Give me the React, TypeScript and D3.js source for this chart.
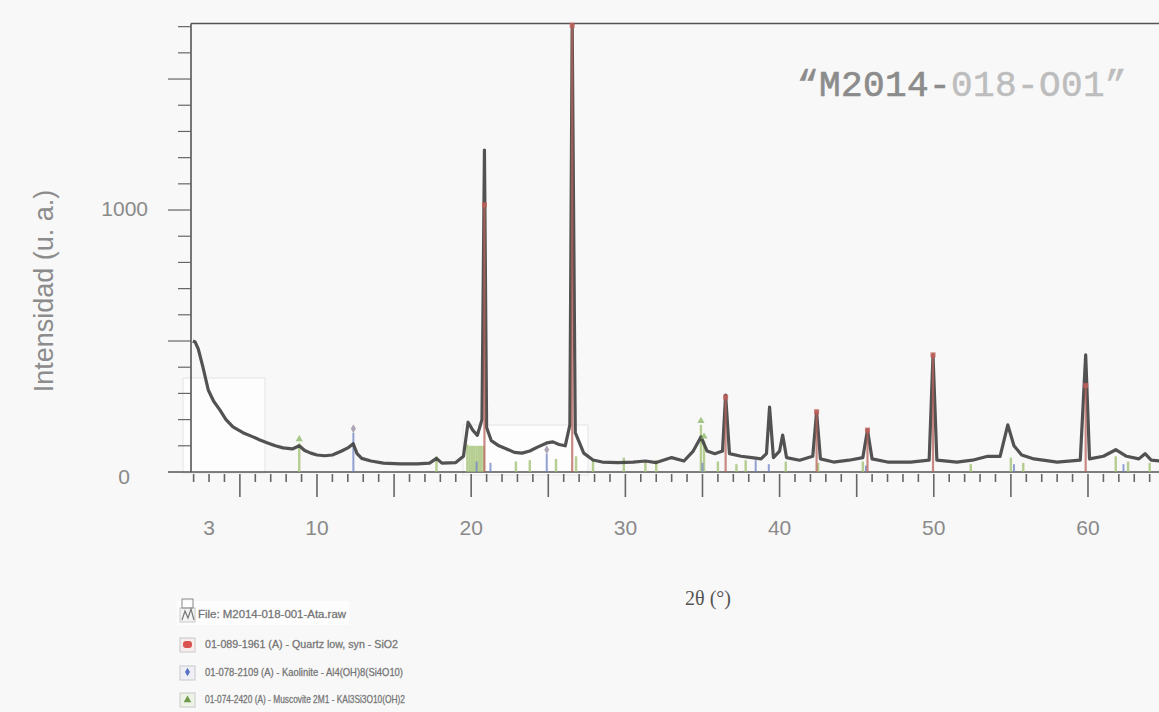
import React, { useEffect, useRef } from 'react';
import * as d3 from 'd3';

// diffractogram: 2θ (deg) and intensity (u. a.)
const twoTheta = [
  1.95, 2.1, 2.3, 2.6, 2.95, 3.3, 3.7, 4.1, 4.55, 5.2, 5.85, 6.3, 6.8, 7.3, 7.8, 8.4, 8.85, 9.2, 9.6, 10.0,
  10.5, 11.0, 11.6, 12.0, 12.35, 12.6, 12.9, 13.5, 14.3, 15.4, 16.5, 17.3, 17.75, 18.1, 19.0, 19.5, 19.8, 20.1,
  20.4, 20.7, 20.86, 21.0, 21.3, 21.8, 22.3, 22.8, 23.3, 23.8, 24.3, 24.9, 25.3, 25.7, 26.1, 26.4, 26.55, 26.75,
  27.3, 27.9, 28.5, 29.5, 30.5, 31.3, 32.0, 33.0, 33.8, 34.4, 34.9, 35.3, 35.8, 36.3, 36.5, 36.75, 37.5, 38.2,
  38.8, 39.15, 39.35, 39.6, 40.0, 40.2, 40.45, 41.3, 42.15, 42.4, 42.65, 43.5, 44.5, 45.4, 45.7, 46.0, 47.0,
  48.5, 49.7, 49.95, 50.2, 51.5, 52.5, 53.5, 54.3, 54.8, 55.2, 55.7, 56.5, 58.0, 59.5, 59.85, 60.1, 61.0, 61.8,
  62.5, 63.3, 63.7, 64.1, 65.0,
];
const intensity = [
  500, 496, 470, 401, 313, 270, 237, 200, 172, 150, 134, 122, 111, 100, 92, 88, 100, 82, 72, 65,
  62, 65, 80, 92, 108, 70, 52, 42, 34, 31, 31, 34, 52, 34, 36, 60, 190, 160,
  140, 200, 1229, 170, 120, 100, 88, 75, 72, 80, 95, 111, 115, 105, 100, 180, 1705, 150,
  72, 46, 38, 36, 38, 42, 36, 55, 42, 80, 134, 80, 70, 80, 294, 70, 60, 55,
  50, 70, 248, 55, 80, 141, 55, 45, 60, 229, 50, 38, 45, 55, 160, 50, 38,
  38, 45, 447, 45, 38, 45, 60, 60, 180, 100, 65, 50, 38, 45, 447, 50, 60, 85,
  60, 50, 70, 45, 40,
];

// reference patterns (stick positions / heights)
const quartzPos = [20.86, 26.55, 36.5, 42.4, 45.7, 49.95, 59.85];
const quartzInt = [1020, 1705, 286, 230, 160, 447, 330];
const kaolinitePos = [12.36, 20.35, 21.25, 24.9, 35.0, 38.45, 39.3, 45.6, 55.2, 62.3];
const kaoliniteInt = [150, 40, 35, 70, 35, 45, 30, 25, 30, 30];
const muscovitePos = [8.85, 17.75, 19.75, 19.9, 20.05, 20.2, 20.35, 20.5, 20.65, 20.8, 22.9, 23.8, 25.5, 26.8,
  27.9, 29.9, 31.3, 32.0, 34.9, 35.1, 36.0, 37.2, 37.8, 40.4, 42.5, 45.4, 52.4, 55.0, 55.8, 61.8, 62.6, 64.0];
const muscoviteInt = [110, 60, 105, 100, 100, 100, 100, 100, 100, 100, 40, 45, 50, 60,
  45, 55, 40, 45, 180, 120, 40, 30, 45, 40, 35, 40, 30, 55, 35, 60, 40, 35];

const xTickLabels = [3, 10, 20, 30, 40, 50, 60];
const yTickLabels = [0, 1000];

const legendItems = [
  'File: M2014-018-001-Ata.raw',
  '01-089-1961 (A) - Quartz low, syn - SiO2',
  '01-078-2109 (A) - Kaolinite - Al4(OH)8(Si4O10)',
  '01-074-2420 (A) - Muscovite 2M1 - KAl3Si3O10(OH)2',
];

const App = () => {
  const svgRef = useRef<SVGSVGElement | null>(null);

  useEffect(() => {
    document.body.style.margin = '0';
    const width = 1159;
    const height = 712;

    const svg = d3.select(svgRef.current);
    svg.selectAll('*').remove();
    svg.attr('width', width).attr('height', height);

    svg.append('rect').attr('width', width).attr('height', height).attr('fill', '#f8f8f8');

    const x = d3.scaleLinear().domain([1.83, 65.5]).range([191, 1172.8]);
    const y = d3.scaleLinear().domain([0, 1712]).range([472, 23.5]);

    // faint pasted-image boxes
    svg.append('rect').attr('x', 183).attr('y', 378).attr('width', 82).attr('height', 95)
      .attr('fill', '#fdfdfd').attr('stroke', '#e4e4e4');
    svg.append('rect').attr('x', 463).attr('y', 425).attr('width', 125).attr('height', 50)
      .attr('fill', '#fdfdfd').attr('stroke', '#e4e4e4');

    // frame
    svg.append('line').attr('x1', 191).attr('x2', width).attr('y1', 23.5).attr('y2', 23.5)
      .attr('stroke', '#555').attr('stroke-width', 1.6);
    svg.append('line').attr('x1', 191).attr('x2', 191).attr('y1', 23.5).attr('y2', 472)
      .attr('stroke', '#555').attr('stroke-width', 1.6);
    svg.append('line').attr('x1', 168).attr('x2', width).attr('y1', 472).attr('y2', 472)
      .attr('stroke', '#555').attr('stroke-width', 1.6);

    // y ticks every 100, long every 500
    d3.range(100, 1701, 100).forEach(v => {
      const long = v % 500 === 0;
      svg.append('line').attr('x1', long ? 168 : 178).attr('x2', 191)
        .attr('y1', y(v)).attr('y2', y(v)).attr('stroke', '#666').attr('stroke-width', 1.2);
    });
    yTickLabels.forEach(v => {
      svg.append('text').attr('x', v === 0 ? 124 : 148).attr('y', y(v) + (v === 0 ? 6 : 0))
        .attr('text-anchor', v === 0 ? 'middle' : 'end').attr('dominant-baseline', 'middle')
        .style('font-family', 'Liberation Sans, Arial, sans-serif').style('font-size', '21px')
        .style('fill', '#8a8a8a').text(String(v));
    });

    // x ticks every degree, long every 5
    d3.range(2, 66).forEach(v => {
      const long = v % 5 === 0;
      svg.append('line').attr('x1', x(v)).attr('x2', x(v))
        .attr('y1', 474).attr('y2', long ? 497 : 482)
        .attr('stroke', '#666').attr('stroke-width', 1.6);
    });
    xTickLabels.forEach(v => {
      svg.append('text').attr('x', x(v)).attr('y', 529)
        .attr('text-anchor', 'middle').attr('dominant-baseline', 'middle')
        .style('font-family', 'Liberation Sans, Arial, sans-serif').style('font-size', '21px')
        .style('fill', '#8a8a8a').text(String(v));
    });

    // axis titles
    svg.append('text').attr('transform', 'translate(46, 291) rotate(-90)')
      .attr('text-anchor', 'middle').attr('dominant-baseline', 'middle')
      .style('font-family', 'Liberation Sans, Arial, sans-serif').style('font-size', '27px')
      .style('fill', '#8c8c8c').text('Intensidad (u. a.)');
    svg.append('text').attr('x', 708).attr('y', 605).attr('text-anchor', 'middle')
      .style('font-family', 'Liberation Serif, serif').style('font-size', '20px')
      .style('fill', '#555').text('2θ (°)');

    // sample label
    const lbl = svg.append('text').attr('x', 797).attr('y', 96)
      .style('font-family', 'Liberation Mono, Courier New, monospace').style('font-size', '36px')
      .style('letter-spacing', '0.4px');
    lbl.append('tspan').style('fill', '#8c8c8c').style('stroke', '#8c8c8c').style('stroke-width', '0.7px')
      .text('“M2014-');
    lbl.append('tspan').style('fill', '#bdbdbd').style('stroke', '#bdbdbd').style('stroke-width', '0.5px')
      .text('018-O01”');

    // reference sticks
    const sticks = (pos: number[], val: number[], color: string, w: number) => {
      pos.forEach((p, i) => {
        svg.append('line').attr('x1', x(p)).attr('x2', x(p)).attr('y1', y(0)).attr('y2', y(val[i]))
          .attr('stroke', color).attr('stroke-width', w).attr('opacity', 0.75);
      });
    };
    sticks(muscovitePos, muscoviteInt, '#9fbf6e', 2.4);
    sticks(kaolinitePos, kaoliniteInt, '#6f83c4', 2);

    // diffractogram
    const pts: [number, number][] = twoTheta.map((t, i) => [t, intensity[i]]);
    const line = d3.line<[number, number]>().x(d => x(d[0])).y(d => y(d[1]));
    svg.append('path').attr('d', line(pts)).attr('fill', 'none')
      .attr('stroke', '#3f3f3f').attr('stroke-width', 3.2).attr('stroke-linejoin', 'round')
      .attr('opacity', 0.9);

    sticks(quartzPos, quartzInt, '#b8645c', 2.2);

    // stick markers
    quartzPos.forEach((p, i) => {
      svg.append('rect').attr('x', x(p) - 2.5).attr('y', y(quartzInt[i]) - 2.5)
        .attr('width', 5).attr('height', 5).attr('fill', '#c0605a').attr('opacity', 0.85);
    });
    const diamond = d3.symbol().type(d3.symbolDiamond).size(22);
    kaolinitePos.forEach((p, i) => {
      if (kaoliniteInt[i] < 60) return;
      svg.append('path').attr('d', diamond()).attr('transform', `translate(${x(p)}, ${y(kaoliniteInt[i]) - 4})`)
        .attr('fill', '#9a8fa8').attr('opacity', 0.8);
    });
    const tri = d3.symbol().type(d3.symbolTriangle).size(22);
    muscovitePos.forEach((p, i) => {
      if (muscoviteInt[i] < 110) return;
      svg.append('path').attr('d', tri()).attr('transform', `translate(${x(p)}, ${y(muscoviteInt[i]) - 4})`)
        .attr('fill', '#8db86a').attr('opacity', 0.8);
    });

    // legend
    svg.append('rect').attr('x', 177).attr('y', 601).attr('width', 172).attr('height', 24)
      .attr('fill', '#fdfdfd');
    const rowsY = [615, 645, 673, 700];
    const textX = [198, 205, 205, 205];
    const textW = [148, 193, 198, 200];
    const boxBg = ['#f4f4f4', '#f7eded', '#eef0f6', '#eef3e8'];
    legendItems.forEach((t, i) => {
      const yy = rowsY[i];
      svg.append('rect').attr('x', 180).attr('y', yy - 7).attr('width', 15).attr('height', 14)
        .attr('fill', boxBg[i]).attr('stroke', '#c8c8c8');
      svg.append('text').attr('x', textX[i]).attr('y', yy).attr('dominant-baseline', 'middle')
        .attr('textLength', textW[i]).attr('lengthAdjust', 'spacingAndGlyphs')
        .style('font-family', 'Liberation Sans, Arial, sans-serif').style('font-size', '11.5px')
        .style('fill', '#666').style('stroke', '#888').style('stroke-width', '0.3px').text(t);
    });
    // legend glyphs
    svg.append('rect').attr('x', 182).attr('y', 599).attr('width', 11).attr('height', 9)
      .attr('fill', 'none').attr('stroke', '#888');
    svg.append('polyline').attr('points', '182,620 185,611 188,618 191,609 194,620')
      .attr('fill', 'none').attr('stroke', '#777').attr('stroke-width', 1.2);
    svg.append('rect').attr('x', 183).attr('y', 641).attr('width', 9).attr('height', 7).attr('rx', 3)
      .attr('fill', '#d9534f');
    svg.append('path').attr('d', d3.symbol().type(d3.symbolDiamond).size(22)())
      .attr('transform', 'translate(187.5, 672)').attr('fill', '#5b73c0');
    svg.append('path').attr('d', d3.symbol().type(d3.symbolTriangle).size(26)())
      .attr('transform', 'translate(187.5, 700)').attr('fill', '#6e9a4a');
  }, []);

  return (
    <div style={{ width: '100%', height: '100%' }}>
      <svg ref={svgRef} style={{ display: 'block' }}></svg>
    </div>
  );
};

export default App;
